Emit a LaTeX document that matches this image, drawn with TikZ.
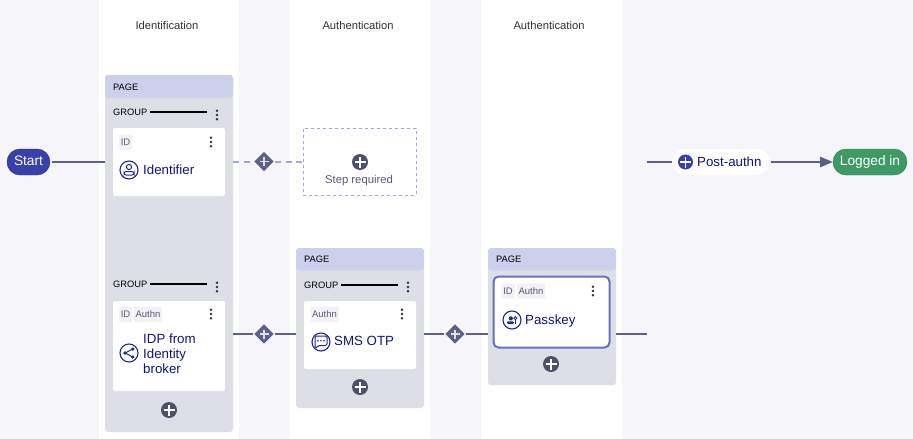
\documentclass[tikz,border=0pt]{standalone}
\usepackage{fontspec}
\setmainfont{Liberation Sans}
\usepackage{xcolor}
\usetikzlibrary{arrows}
\usetikzlibrary{shapes.geometric}
\definecolor{bgcol}{HTML}{F6F6FA}
\definecolor{headcol}{HTML}{CCD0EA}
\definecolor{pagecol}{HTML}{DEDEE7}
\definecolor{linecol}{HTML}{5F6184}
\definecolor{dashcol}{HTML}{A4A6DA}
\definecolor{addcol}{HTML}{4D4F6B}
\definecolor{navycol}{HTML}{14147A}
\definecolor{iconcol}{HTML}{1F2A94}
\definecolor{tagcol}{HTML}{F1F1F6}
\definecolor{tagtext}{HTML}{5B5B7A}
\definecolor{startcol}{HTML}{3740AB}
\definecolor{logincol}{HTML}{3F9A66}
\definecolor{activecol}{HTML}{6A70BC}

\begin{document}
\begin{tikzpicture}[x=1pt,y=-1pt,>=triangle 45,
		column box/.style={fill=white,minimum width=140pt,minimum height=439pt,inner sep=0pt},
		title node/.style={font=\fontsize{11.2}{13}\selectfont,text=black!80},
		page node/.style={fill=pagecol,rounded corners=3pt,minimum width=128pt,inner sep=0pt,
			path picture={\fill[headcol] (path picture bounding box.north west) rectangle ([yshift=-22.5pt]path picture bounding box.north east);}},
		card node/.style={fill=white,rounded corners=2pt,minimum width=112pt,inner sep=0pt},
		small label/.style={font=\fontsize{9.3}{11}\selectfont,inner sep=0pt,anchor=west},
		tag node/.style={fill=tagcol,text=tagtext,rounded corners=1pt,font=\fontsize{9.5}{11}\selectfont,inner sep=0pt,minimum height=15pt},
		card text/.style={font=\fontsize{13.3}{15}\selectfont,text=navycol,inner sep=0pt,anchor=west,align=left},
		icon node/.style={circle,draw=iconcol,line width=1.1pt,fill=white,minimum size=18pt,inner sep=0pt},
		kebab node/.style={minimum width=4pt,minimum height=12pt,inner sep=0pt,
			path picture={\fill[addcol!60!black]
				(path picture bounding box.center) circle (1.4pt)
				([yshift=4.2pt]path picture bounding box.center) circle (1.4pt)
				([yshift=-4.2pt]path picture bounding box.center) circle (1.4pt);}},
		add node/.style={circle,fill=addcol,minimum size=16pt,inner sep=0pt,
			path picture={\draw[white,line width=1.7pt]
				([xshift=-5.5pt]path picture bounding box.center) -- ([xshift=5.5pt]path picture bounding box.center)
				([yshift=-5.5pt]path picture bounding box.center) -- ([yshift=5.5pt]path picture bounding box.center);}},
		gate node/.style={diamond,fill=linecol,minimum size=20pt,inner sep=0pt,outer sep=1pt,
			path picture={\draw[pagecol,line width=1.5pt]
				([xshift=-4.5pt]path picture bounding box.center) -- ([xshift=4.5pt]path picture bounding box.center)
				([yshift=-4.5pt]path picture bounding box.center) -- ([yshift=4.5pt]path picture bounding box.center);}},
		pill node/.style={rounded corners=12.9pt,minimum height=26pt,inner sep=0pt,text height=10pt,text depth=3pt,font=\fontsize{13.7}{15}\selectfont},
		flow/.style={draw=linecol,line width=2pt},
		dash flow/.style={draw=dashcol,line width=2pt,dash pattern=on 6pt off 4.5pt},
		group line/.style={draw=black,line width=2pt},
		person/.pic={
			\draw[iconcol,line width=1pt] (0,-3) circle (2.6);
			\draw[iconcol,line width=1pt,rounded corners=2pt] (-5,5) -- (5,5) -- (5,1.6) -- (-5,1.6) -- cycle;},
		share/.pic={
			\fill[iconcol] (3.8,-4) circle (1.8) (-4,0) circle (1.8) (3.8,4) circle (1.8);
			\draw[iconcol,line width=1pt] (3.8,-4) -- (-4,0) -- (3.8,4);},
		chat/.pic={
			\draw[iconcol,line width=1pt,rounded corners=1.5pt] (-6,-6) -- (6,-6) -- (6,3.5) -- (-2.5,3.5) -- (-6,6.5) -- cycle;
			\fill[iconcol] (-3,-1.2) circle (0.9) (0,-1.2) circle (0.9) (3,-1.2) circle (0.9);},
		keyperson/.pic={
			\fill[iconcol] (-1.2,-1.6) circle (2.1);
			\fill[iconcol,rounded corners=1pt] (-5,4) -- (1.8,4) -- (1.8,1.4) -- (-5,1.4) -- cycle;
			\draw[iconcol,line width=0.9pt] (3.4,-1.9) circle (1.5);
			\draw[iconcol,line width=1pt] (3.5,-0.3) -- (3.5,3.8);}]

	\useasboundingbox (0,0) rectangle (913,439);
	\fill[bgcol] (0,0) rectangle (913,439);

	% Columns
	\node[column box] (cola) at (169,219.5) {};
	\node[column box] (colb) at (360,219.5) {};
	\node[column box,minimum width=141pt] (colc) at (551.5,219.5) {};
	\node[title node] (titlea) at (167,25) {Identification};
	\node[title node] (titleb) at (358,25) {Authentication};
	\node[title node] (titlec) at (549,25) {Authentication};

	% Pages
	\node[page node,minimum height=357pt] (pagea) at (169,253.5) {};
	\node[page node,minimum height=160pt] (pageb) at (360,328) {};
	\node[page node,minimum height=137pt] (pagec) at (552,316.5) {};
	\node[small label] (heada) at (113,87) {PAGE};
	\node[small label] (headb) at (304,259) {PAGE};
	\node[small label] (headc) at (496,259) {PAGE};

	% Groups
	\node[small label] (groupa) at (113,112) {GROUP};
	\node[small label] (groupb) at (113,284) {GROUP};
	\node[small label] (groupc) at (304,285) {GROUP};
	\node[kebab node] (kebaba) at (217,115) {};
	\node[kebab node] (kebabb) at (217,287) {};
	\node[kebab node] (kebabc) at (408,287) {};
	\draw[group line] ([xshift=2.5pt]groupa.east) -- +(57,0);
	\draw[group line] ([xshift=2.5pt]groupb.east) -- +(57,0);
	\draw[group line] ([xshift=2.5pt]groupc.east) -- +(57,0);

	% Cards
	\node[card node,minimum height=68pt] (carda) at (169,162) {};
	\node[card node,minimum height=90pt] (cardb) at (169,346) {};
	\node[card node,minimum height=68pt] (cardc) at (360,335) {};
	\node[card node,draw=activecol,line width=2pt,minimum width=116pt,minimum height=71pt,rounded corners=5pt] (cardd) at (551.5,312) {};

	% Tags
	\node[tag node,minimum width=13pt] (taga) at (125.5,142) {ID};
	\node[tag node,minimum width=13pt] (tagb) at (125.5,314) {ID};
	\node[tag node,minimum width=28pt] (tagc) at (148,314) {Authn};
	\node[tag node,minimum width=28pt] (tagd) at (324.5,314) {Authn};
	\node[tag node,minimum width=13pt] (tage) at (508,291) {ID};
	\node[tag node,minimum width=28pt] (tagf) at (531,291) {Authn};

	% Card menus
	\node[kebab node] (menua) at (211,142) {};
	\node[kebab node] (menub) at (211,314) {};
	\node[kebab node] (menuc) at (402,314) {};
	\node[kebab node] (menud) at (593,291) {};

	% Card contents
	\node[icon node] (icona) at (129,170) {};
	\pic at (icona) {person};
	\node[card text] (labela) at (143,169.5) {Identifier};
	\node[icon node] (iconb) at (129,353) {};
	\pic at (iconb) {share};
	\node[card text] (labelb) at (143,354) {IDP from\\[-0.2pt]Identity\\[-0.2pt]broker};
	\node[icon node] (iconc) at (321,342) {};
	\pic at (iconc) {chat};
	\node[card text] (labelc) at (334,341) {SMS OTP};
	\node[icon node] (icond) at (512,320) {};
	\pic at (icond) {keyperson};
	\node[card text] (labeld) at (525,321) {Passkey};

	% Add buttons
	\node[add node] (adda) at (169,410) {};
	\node[add node] (addb) at (360,387) {};
	\node[add node] (addc) at (551,364) {};

	% Empty step
	\node[draw=dashcol,dashed,line width=0.8pt,minimum width=113pt,minimum height=67pt,inner sep=0pt] (stepbox) at (359.5,161.5) {};
	\node[add node] (addstep) at (360,162) {};
	\node[font=\fontsize{11.3}{13}\selectfont,text=tagtext,inner sep=0pt] (steptext) at (359,180.5) {Step required};

	% Gates
	\node[gate node] (gatea) at (264,161.5) {};
	\node[gate node] (gateb) at (264,334) {};
	\node[gate node] (gatec) at (455,334) {};

	% Start and end
	\node[pill node,draw=startcol!80!black,fill=startcol,text=white,minimum width=43pt] (start) at (28.5,162) {Start};
	\node[pill node,fill=white,minimum width=98pt] (postbox) at (721,162) {};
	\node[circle,fill=startcol,minimum size=15pt,inner sep=0pt,
		path picture={\draw[white,line width=1.7pt]
			([xshift=-5.5pt]path picture bounding box.center) -- ([xshift=5.5pt]path picture bounding box.center)
			([yshift=-5.5pt]path picture bounding box.center) -- ([yshift=5.5pt]path picture bounding box.center);}] (postadd) at (685.5,162) {};
	\node[card text] (posttext) at (697,161.5) {Post-authn};
	\node[pill node,draw=logincol!80!black,fill=logincol,text=white,minimum width=74pt] (login) at (870,162) {Logged in};
	\coordinate (rowend) at (647,334);
	\coordinate (postin) at (647,162);

	% Edges
	\draw[flow] ([xshift=2pt]start.east) -- (start -| pagea.west);
	\draw[dash flow] (pagea.east |- gatea) -- (gatea);
	\draw[dash flow] (gatea) -- (stepbox.west |- gatea);
	\draw[flow] (pagea.east |- gateb) -- (gateb);
	\draw[flow] (gateb) -- (pageb.west |- gateb);
	\draw[flow] (pageb.east |- gatec) -- (gatec);
	\draw[flow] (gatec) -- (pagec.west |- gatec);
	\draw[flow] (pagec.east |- rowend) -- (rowend);
	\draw[flow] (postin) -- (postbox.west);
	\draw[flow,->] ([xshift=1pt]postbox.east) -- (login.west);
\end{tikzpicture}
\end{document}
